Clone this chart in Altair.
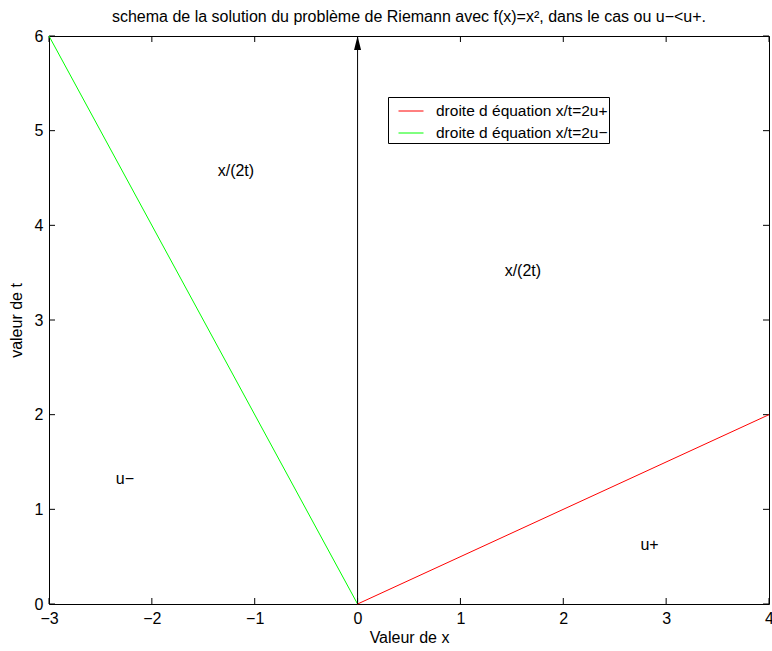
import altair as alt
import pandas as pd

# Characteristic lines x/t = 2u+ (red) and x/t = 2u- (green)
line_names = ["droite d équation x/t=2u+", "droite d équation x/t=2u+",
              "droite d équation x/t=2u−", "droite d équation x/t=2u−"]
line_x = [0, 4, -3, 0]
line_t = [0, 2, 6, 0]
line_step = [0, 1, 0, 1]
legend_order = ["droite d équation x/t=2u+", "droite d équation x/t=2u−"]
line_colors = ["#ff0000", "#00ff00"]

# Vertical arrow along the t axis
arrow_x = [0]
arrow_t0 = [0]
arrow_t1 = [6]

# Labels of the regions of the solution
region_text = ["x/(2t)", "x/(2t)", "u−", "u+"]
region_x = [-1.36, 1.43, -2.35, 2.75]
region_t = [4.57, 3.52, 1.32, 0.62]

x_ticks = [-3, -2, -1, 0, 1, 2, 3, 4]
t_ticks = [0, 1, 2, 3, 4, 5, 6]

W, H = 720, 568
TICK = 6
FONT = "Liberation Sans"
FS = 16

lines_df = pd.DataFrame({"name": line_names, "x": line_x, "t": line_t, "step": line_step})
arrow_df = pd.DataFrame({"x": arrow_x, "t0": arrow_t0, "t1": arrow_t1})
region_df = pd.DataFrame({"label": region_text, "x": region_x, "t": region_t})
xt_df = pd.DataFrame({"v": x_ticks})
tt_df = pd.DataFrame({"v": t_ticks})

xscale = alt.Scale(domain=[-3, 4], nice=False, zero=False)
tscale = alt.Scale(domain=[0, 6], nice=False, zero=False)

x_axis = alt.Axis(values=x_ticks, ticks=False, domain=False, grid=False,
                  labelPadding=6, labelFlush=False, labelFontSize=FS,
                  labelColor="black", title="Valeur de x", titleFontSize=FS,
                  titleFontWeight="normal", titleColor="black", titlePadding=3,
                  format="d")
t_axis = alt.Axis(values=t_ticks, ticks=False, domain=False, grid=False,
                  labelPadding=6, labelFlush=False, labelFontSize=FS,
                  labelColor="black", title="valeur de t", titleFontSize=FS,
                  titleFontWeight="normal", titleColor="black", titlePadding=10,
                  format="d")

base_axes = alt.Chart(lines_df).mark_line(strokeWidth=1).encode(
    x=alt.X("x:Q", scale=xscale, axis=x_axis),
    y=alt.Y("t:Q", scale=tscale, axis=t_axis),
    color=alt.Color("name:N",
                    scale=alt.Scale(domain=legend_order, range=line_colors),
                    legend=alt.Legend(title=None, orient="none", legendX=339,
                                      legendY=61, strokeColor="black",
                                      fillColor="white", padding=1,
                                      symbolType="stroke", symbolSize=625,
                                      symbolStrokeWidth=1, symbolOffset=9,
                                      labelFontSize=15.5, labelOffset=12,
                                      labelLimit=400, rowPadding=-1,
                                      labelColor="black")),
    order="step:Q",
    detail="name:N",
)

arrow_line = alt.Chart(arrow_df).mark_rule(color="black", strokeWidth=1).encode(
    x=alt.X("x:Q", scale=xscale),
    y=alt.Y("t0:Q", scale=tscale),
    y2="t1:Q",
)

arrow_head = alt.Chart(arrow_df).mark_point(
    shape="M0,0L-0.5,2L0.5,2Z", filled=True, color="black", opacity=1,
    size=196, strokeWidth=0,
).encode(
    x=alt.X("x:Q", scale=xscale),
    y=alt.Y("t1:Q", scale=tscale),
)

regions = alt.Chart(region_df).mark_text(
    align="left", baseline="middle", fontSize=FS, color="black", font=FONT
).encode(
    x=alt.X("x:Q", scale=xscale),
    y=alt.Y("t:Q", scale=tscale),
    text="label:N",
)

# Inward ticks on all four sides of the box
tick_bottom = alt.Chart(xt_df).mark_rule(color="black").encode(
    x=alt.X("v:Q", scale=xscale), y=alt.value(H), y2=alt.value(H - TICK))
tick_top = alt.Chart(xt_df).mark_rule(color="black").encode(
    x=alt.X("v:Q", scale=xscale), y=alt.value(0), y2=alt.value(TICK))
tick_left = alt.Chart(tt_df).mark_rule(color="black").encode(
    y=alt.Y("v:Q", scale=tscale), x=alt.value(0), x2=alt.value(TICK))
tick_right = alt.Chart(tt_df).mark_rule(color="black").encode(
    y=alt.Y("v:Q", scale=tscale), x=alt.value(W), x2=alt.value(W - TICK))

chart = alt.layer(
    tick_bottom, tick_top, tick_left, tick_right,
    base_axes, arrow_line, arrow_head, regions,
).properties(
    width=W, height=H,
    title=alt.Title(
        "schema de la solution du problème de Riemann avec f(x)=x², dans le cas ou u−<u+.",
        fontSize=FS, fontWeight="normal", color="black", font=FONT, offset=3,
        anchor="middle"),
    autosize=alt.AutoSizeParams(type="none"),
    padding={"left": 49, "top": 36, "right": 3, "bottom": 47},
).configure(
    font=FONT,
    background="white",
).configure_view(
    stroke="black", strokeWidth=1,
)

chart.save("out.html", embed_options={"renderer": "svg", "actions": False})
